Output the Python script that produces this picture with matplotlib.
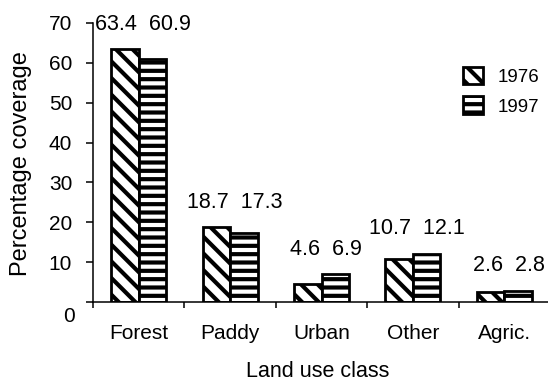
import numpy as np
import matplotlib
matplotlib.use("Agg")
import matplotlib.pyplot as plt

plt.rcParams["font.family"] = ["Liberation Sans", "DejaVu Sans"]
plt.rcParams["hatch.linewidth"] = 3.0
plt.rcParams["hatch.color"] = "black"

# Land use share by class, 1976 vs 1997
categories = ["Forest", "Paddy", "Urban", "Other", "Agric."]
cover_1976 = [63.4, 18.7, 4.6, 10.7, 2.6]
cover_1997 = [60.9, 17.3, 6.9, 12.1, 2.8]
years = ["1976", "1997"]
y_ticks = [0, 10, 20, 30, 40, 50, 60, 70]

fig = plt.figure(figsize=(5.48, 3.84), dpi=100)
ax = fig.add_axes([93 / 548, 82 / 384, 457 / 548, 279 / 384])

x = np.arange(len(categories))
w = 0.30
bar_style = dict(color="white", edgecolor="black", linewidth=2.0)
b1 = ax.bar(x - w / 2, cover_1976, w, hatch="\\\\", label=years[0], **bar_style)
b2 = ax.bar(x + w / 2, cover_1997, w, hatch="--", label=years[1], **bar_style)

# value labels above each pair
for xi, a, b in zip(x, cover_1976, cover_1997):
    ax.annotate(f"{a}  {b}", xy=(xi, max(a, b)), xytext=(3, 14),
                textcoords="offset points", ha="center", va="baseline",
                fontsize=15.5, annotation_clip=False)

ax.set_xlim(-0.5, len(categories) - 0.5)
ax.set_ylim(0, 70)

# axes styling
for side in ("top", "right"):
    ax.spines[side].set_visible(False)
for side in ("left", "bottom"):
    ax.spines[side].set_linewidth(1.1)

ax.set_yticks(y_ticks)
ax.set_yticklabels(["" if t == 0 else str(t) for t in y_ticks])
ax.tick_params(axis="y", direction="out", length=5, width=1.1, pad=10,
               labelsize=15)
ax.annotate("0", xy=(0, 0), xycoords=("axes fraction", "data"),
            xytext=(-17.3, -10.1), textcoords="offset points",
            ha="center", va="center", fontsize=15, annotation_clip=False)

# group boundaries as major ticks, category names on minor ticks
ax.set_xticks(np.arange(-0.5, len(categories), 1.0))
ax.set_xticklabels([])
ax.set_xticks(x, minor=True)
ax.set_xticklabels(categories, minor=True)
ax.tick_params(axis="x", which="major", direction="out", length=4.5, width=1.1)
ax.tick_params(axis="x", which="minor", length=0, pad=16, labelsize=15)

ax.set_xlabel("Land use class", fontsize=15.5)
ax.xaxis.set_label_coords(0.491, -0.212)
ax.set_ylabel("Percentage coverage", fontsize=17)
ax.yaxis.set_label_coords(-0.1335, 0.495)

ax.legend(handles=[b1, b2], loc="upper left",
          bbox_to_anchor=(463 / 548, 1 - 67 / 384),
          bbox_transform=fig.transFigure, frameon=False, fontsize=13.5,
          borderpad=0, borderaxespad=0, handlelength=1.05, handleheight=1.05,
          handletextpad=0.8, labelspacing=0.55)

fig.savefig("out.png", dpi=100)
